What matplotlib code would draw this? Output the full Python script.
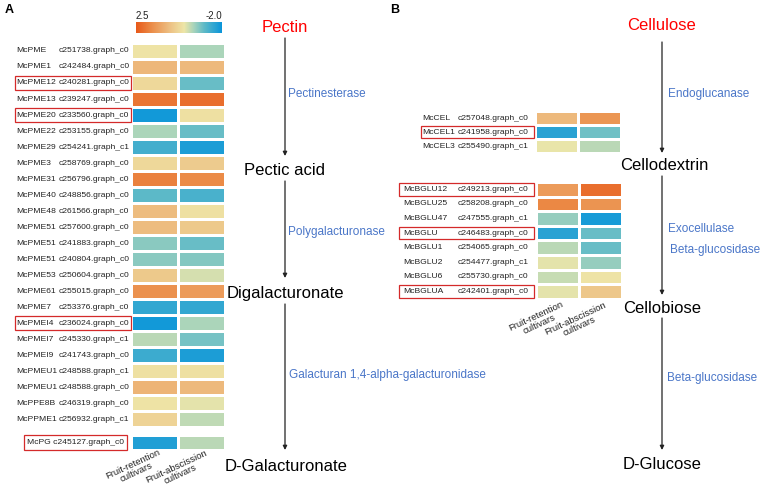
import numpy as np
import matplotlib
matplotlib.use('Agg')
import matplotlib.pyplot as plt
from matplotlib.colors import LinearSegmentedColormap, Normalize
from matplotlib.patches import Rectangle

plt.rcParams['font.family'] = ['Liberation Sans', 'DejaVu Sans']

# ---- data ----
pectin_genes = ['McPME', 'McPME1', 'McPME12', 'McPME13', 'McPME20', 'McPME22', 'McPME29',
                'McPME3', 'McPME31', 'McPME40', 'McPME48', 'McPME51', 'McPME51', 'McPME51',
                'McPME53', 'McPME61', 'McPME7', 'McPMEI4', 'McPMEI7', 'McPMEI9', 'McPMEU1',
                'McPMEU1', 'McPPE8B', 'McPPME1']
pectin_ids = ['c251738.graph_c0', 'c242484.graph_c0', 'c240281.graph_c0', 'c239247.graph_c0',
              'c233560.graph_c0', 'c253155.graph_c0', 'c254241.graph_c1', 'c258769.graph_c0',
              'c256796.graph_c0', 'c248856.graph_c0', 'c261566.graph_c0', 'c257600.graph_c0',
              'c241883.graph_c0', 'c240804.graph_c0', 'c250604.graph_c0', 'c255015.graph_c0',
              'c253376.graph_c0', 'c236024.graph_c0', 'c245330.graph_c1', 'c241743.graph_c0',
              'c248588.graph_c1', 'c248588.graph_c0', 'c246319.graph_c0', 'c256932.graph_c1']
pectin_retention = [0.05, 0.9, 0.25, 2.05, -1.9, -0.5, -1.35, 0.25, 1.85, -1.1, 0.8, 0.8,
                    -0.75, -0.75, 0.55, 1.6, -1.55, -1.9, -0.4, -1.45, 0.1, 0.95, 0.05, 0.35]
pectin_abscission = [-0.5, 0.85, -1.0, 2.15, 0.1, -1.0, -1.8, 0.5, 1.7, -1.3, 0.1, 0.55,
                     -1.0, -0.8, -0.2, 1.4, -1.55, -0.5, -0.9, -1.8, 0.1, 0.85, -0.1, -0.35]
pectin_boxed = ['McPME12', 'McPME20', 'McPMEI4']

pg_gene, pg_id = 'McPG', 'c245127.graph_c0'
pg_values = [-1.75, -0.4]

cel_genes = ['McCEL', 'McCEL1', 'McCEL3']
cel_ids = ['c257048.graph_c0', 'c241958.graph_c0', 'c255490.graph_c1']
cel_retention = [0.85, -1.65, -0.05]
cel_abscission = [1.5, -0.95, -0.4]
cel_boxed = ['McCEL1']

bglu_genes = ['McBGLU12', 'McBGLU25', 'McBGLU47', 'McBGLU', 'McBGLU1', 'McBGLU2', 'McBGLU6', 'McBGLUA']
bglu_ids = ['c249213.graph_c0', 'c258208.graph_c0', 'c247555.graph_c1', 'c246483.graph_c0',
            'c254065.graph_c0', 'c254477.graph_c1', 'c255730.graph_c0', 'c242401.graph_c0']
bglu_retention = [1.4, 1.75, -0.65, -1.65, -0.4, -0.1, -0.3, -0.1]
bglu_abscission = [2.15, 1.55, -1.85, -1.0, -1.0, -0.65, 0.05, 0.6]
bglu_boxed = ['McBGLU12', 'McBGLU', 'McBGLUA']

col_labels = ['Fruit-retention\ncultivars', 'Fruit-abscission\ncultivars']

vmin, vmax = -2.0, 2.5
cmap = LinearSegmentedColormap.from_list('heat', [
    (0.0, '#0a95da'), (0.2, '#5cb9c8'), (0.33, '#a9d4bb'), (0.44, '#eee6a8'),
    (0.62, '#edbd80'), (0.82, '#eb8c48'), (1.0, '#e8591a')])
norm = Normalize(vmin, vmax)

RED = '#d42a2a'
BLUE = '#4a76c8'
TXT = '#222222'

fig = plt.figure(figsize=(7.67, 4.94), dpi=100)
ax = fig.add_axes([0, 0, 1, 1])
ax.set_xlim(0, 767)
ax.set_ylim(494, 0)
ax.axis('off')


def heat(values, x0, y0, cw, ch):
    data = np.array(values)
    xs = x0 + cw * np.arange(data.shape[1] + 1)
    ys = y0 + ch * np.arange(data.shape[0] + 1)
    ax.pcolormesh(xs, ys, data, cmap=cmap, norm=norm, edgecolors='white', linewidth=0.9)


def labels(genes, ids, x_name, x_id, y0, ch, boxed, box_x0, box_x1):
    for i, (g, c) in enumerate(zip(genes, ids)):
        y = y0 + ch * (i + 0.5)
        ax.text(x_name, y, g, fontsize=6.1, color=TXT, va='center')
        ax.text(x_id, y, c, fontsize=6.1, color=TXT, va='center')
        if g in boxed:
            ax.add_patch(Rectangle((box_x0, y - ch / 2 + 1), box_x1 - box_x0, ch - 2,
                                   fill=False, ec=RED, lw=0.9))


def col_text(x0, cw, ybot):
    for j, lab in enumerate(col_labels):
        ax.text(x0 + cw * (j + 0.5) + 3, ybot - 1, lab, fontsize=6.8, color=TXT,
                rotation=25, rotation_mode='anchor', ha='right', va='top',
                multialignment='center', linespacing=1.0)


def arrow(x, y0, y1):
    ax.annotate('', xy=(x, y1), xytext=(x, y0),
                arrowprops=dict(arrowstyle='-|>', lw=0.9, color='#222222', mutation_scale=6,
                                shrinkA=0, shrinkB=0))


# ---- panel A ----
heat(np.column_stack([pectin_retention, pectin_abscission]), 131, 43, 47, 16)
labels(pectin_genes, pectin_ids, 16, 59, 43, 16, pectin_boxed, 15, 131)
heat([pg_values], 131, 435, 47, 15)
ax.text(27, 442.5, pg_gene + ' ' + pg_id, fontsize=6.1, color=TXT, va='center')
ax.add_patch(Rectangle((24, 435), 103, 15, fill=False, ec=RED, lw=0.9))
col_text(131, 47, 449)

# colorbar
cax = fig.add_axes([136 / 767, 1 - 33 / 494, 86 / 767, 11 / 494])
cax.imshow(np.linspace(vmax, vmin, 256)[None, :], cmap=cmap, norm=norm, aspect='auto')
cax.axis('off')
ax.text(136, 16, '2.5', fontsize=7, color=TXT, ha='left', va='center')
ax.text(222, 16, '-2.0', fontsize=7, color=TXT, ha='right', va='center')

ax.text(5, 10, 'A', fontsize=9, fontweight='bold', va='center')
ax.text(390, 10, 'B', fontsize=9, fontweight='bold', va='center')

# pectin pathway
ax.text(285, 27, 'Pectin', fontsize=12, color='red', ha='center', va='center')
ax.text(285, 170, 'Pectic acid', fontsize=12, ha='center', va='center')
ax.text(285, 293, 'Digalacturonate', fontsize=12, ha='center', va='center')
ax.text(286, 466, 'D-Galacturonate', fontsize=12, ha='center', va='center')
arrow(285, 38, 156)
arrow(285, 181, 278)
arrow(285, 304, 450)
ax.text(288, 94, 'Pectinesterase', fontsize=8.5, color=BLUE, va='center')
ax.text(288, 232, 'Polygalacturonase', fontsize=8.5, color=BLUE, va='center')
ax.text(289, 375, 'Galacturan 1,4-alpha-galacturonidase', fontsize=8.5, color=BLUE, va='center')

# ---- panel B ----
heat(np.column_stack([cel_retention, cel_abscission]), 535, 111, 43, 14)
labels(cel_genes, cel_ids, 422, 458, 111, 14, cel_boxed, 421, 534)
heat(np.column_stack([bglu_retention, bglu_abscission]), 536, 182, 43, 14.6)
labels(bglu_genes, bglu_ids, 403, 458, 182, 14.6, bglu_boxed, 399, 534)
col_text(536, 43, 301)

ax.text(662, 26, 'Cellulose', fontsize=12, color='red', ha='center', va='center')
ax.text(664, 165, 'Cellodextrin', fontsize=12, ha='center', va='center')
ax.text(662, 308, 'Cellobiose', fontsize=12, ha='center', va='center')
ax.text(662, 464, 'D-Glucose', fontsize=12, ha='center', va='center')
arrow(662, 42, 153)
arrow(662, 176, 295)
arrow(662, 318, 450)
ax.text(668, 94, 'Endoglucanase', fontsize=8.5, color=BLUE, va='center')
ax.text(668, 229, 'Exocellulase', fontsize=8.5, color=BLUE, va='center')
ax.text(670, 250, 'Beta-glucosidase', fontsize=8.5, color=BLUE, va='center')
ax.text(667, 378, 'Beta-glucosidase', fontsize=8.5, color=BLUE, va='center')

fig.savefig('out.png', dpi=100)
